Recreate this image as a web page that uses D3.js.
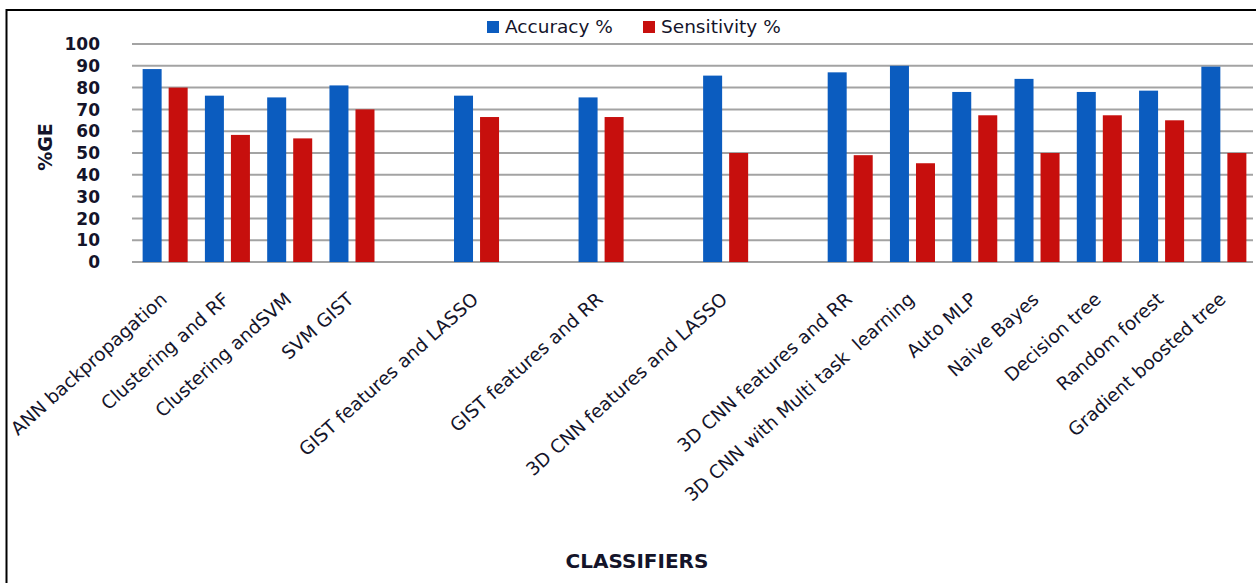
<!DOCTYPE html>
<html>
<head>
<meta charset="utf-8">
<script src="https://cdn.jsdelivr.net/npm/d3@7"></script>
<style>
    body { margin: 0; background: #fff; }
    svg { display: block; font-family: "DejaVu Sans", sans-serif; }
</style>
</head>
<body>
<div id="chart"></div>
<script>
// classifiers, blank strings are the empty columns of the sheet
var categories = ["ANN backpropagation", "Clustering and RF", "Clustering andSVM", "SVM GIST", "",
    "GIST features and LASSO", "", "GIST features and RR", "", "3D CNN features and LASSO", "",
    "3D CNN features and RR", "3D CNN with Multi task  learning", "Auto MLP", "Naive Bayes",
    "Decision tree", "Random forest", "Gradient boosted tree"];
var accuracy = [88.5, 76.3, 75.5, 81, null, 76.3, null, 75.5, null, 85.5, null, 87, 90, 78, 84, 78, 78.6, 89.6];
var sensitivity = [80, 58.3, 56.7, 70, null, 66.5, null, 66.5, null, 50, null, 49, 45.3, 67.3, 50, 67.3, 65, 50];
var seriesNames = ["Accuracy %", "Sensitivity %"];
var yTicks = [0, 10, 20, 30, 40, 50, 60, 70, 80, 90, 100];

var W = 1256, H = 583;
var colors = ["#0b5cbf", "#c70f0d"];
var textColor = "#14142a";

var svg = d3.select("#chart").append("svg")
    .attr("width", W)
    .attr("height", H);

// outer frame
svg.append("rect")
    .attr("x", 6.5).attr("y", 10)
    .attr("width", W + 20).attr("height", H + 20)
    .attr("fill", "none")
    .attr("stroke", "#000")
    .attr("stroke-width", 2);

var x0 = d3.scaleBand()
    .domain(d3.range(categories.length))
    .range([134, 1255])
    .paddingInner(0.277)
    .paddingOuter(0.1385);
var x1 = d3.scaleBand()
    .domain([0, 1])
    .range([0, x0.bandwidth()])
    .paddingInner(0.27);
var y = d3.scaleLinear()
    .domain([0, 100])
    .range([262, 44]);

// gridlines
svg.append("g")
    .selectAll("line")
    .data(yTicks)
    .enter()
    .append("line")
    .attr("x1", 132).attr("x2", 1253)
    .attr("y1", function(d) { return y(d); })
    .attr("y2", function(d) { return y(d); })
    .attr("stroke", "#a3a3a3")
    .attr("stroke-width", 2);

// y tick labels
svg.append("g")
    .selectAll("text")
    .data(yTicks)
    .enter()
    .append("text")
    .attr("x", 100)
    .attr("y", function(d) { return y(d); })
    .attr("dy", "0.36em")
    .attr("text-anchor", "end")
    .attr("font-size", 17)
    .attr("font-weight", "bold")
    .attr("fill", textColor)
    .text(function(d) { return d; });

// bars
var rows = categories.map(function(c, i) {
    return { i: i, values: [accuracy[i], sensitivity[i]] };
});
var groups = svg.append("g")
    .selectAll("g")
    .data(rows)
    .enter()
    .append("g")
    .attr("transform", function(d) { return "translate(" + x0(d.i) + ",0)"; });
groups.selectAll("rect")
    .data(function(d) {
        return d.values.map(function(v, k) { return { k: k, v: v }; })
            .filter(function(e) { return e.v != null; });
    })
    .enter()
    .append("rect")
    .attr("x", function(d) { return x1(d.k); })
    .attr("y", function(d) { return y(d.v); })
    .attr("width", x1.bandwidth())
    .attr("height", function(d) { return y(0) - y(d.v); })
    .attr("fill", function(d) { return colors[d.k]; });

// x labels
svg.append("g")
    .selectAll("text")
    .data(rows.filter(function(d) { return categories[d.i] != ""; }))
    .enter()
    .append("text")
    .attr("transform", function(d) {
        var cx = x0(d.i) + x0.bandwidth() / 2;
        return "translate(" + (cx + 3) + ",301) rotate(-42)";
    })
    .attr("text-anchor", "end")
    .attr("font-size", 18.5)
    .attr("fill", textColor)
    .attr("xml:space", "preserve")
    .style("white-space", "pre")
    .text(function(d) { return categories[d.i]; });

// axis titles
svg.append("text")
    .attr("transform", "translate(52,147) rotate(-90)")
    .attr("text-anchor", "middle")
    .attr("font-size", 19)
    .attr("font-weight", "bold")
    .attr("fill", textColor)
    .text("%GE");
svg.append("text")
    .attr("x", 637)
    .attr("y", 568)
    .attr("text-anchor", "middle")
    .attr("font-size", 20)
    .attr("font-weight", "bold")
    .attr("fill", textColor)
    .text("CLASSIFIERS");

// legend
var legendX = [487, 643];
var legend = svg.append("g")
    .selectAll("g")
    .data(seriesNames)
    .enter()
    .append("g")
    .attr("transform", function(d, i) { return "translate(" + legendX[i] + ",21)"; });
legend.append("rect")
    .attr("width", 12).attr("height", 12)
    .attr("fill", function(d, i) { return colors[i]; });
legend.append("text")
    .attr("x", 18)
    .attr("y", 12)
    .attr("font-size", 18.5)
    .attr("fill", textColor)
    .text(function(d) { return d; });
</script>
</body>
</html>
